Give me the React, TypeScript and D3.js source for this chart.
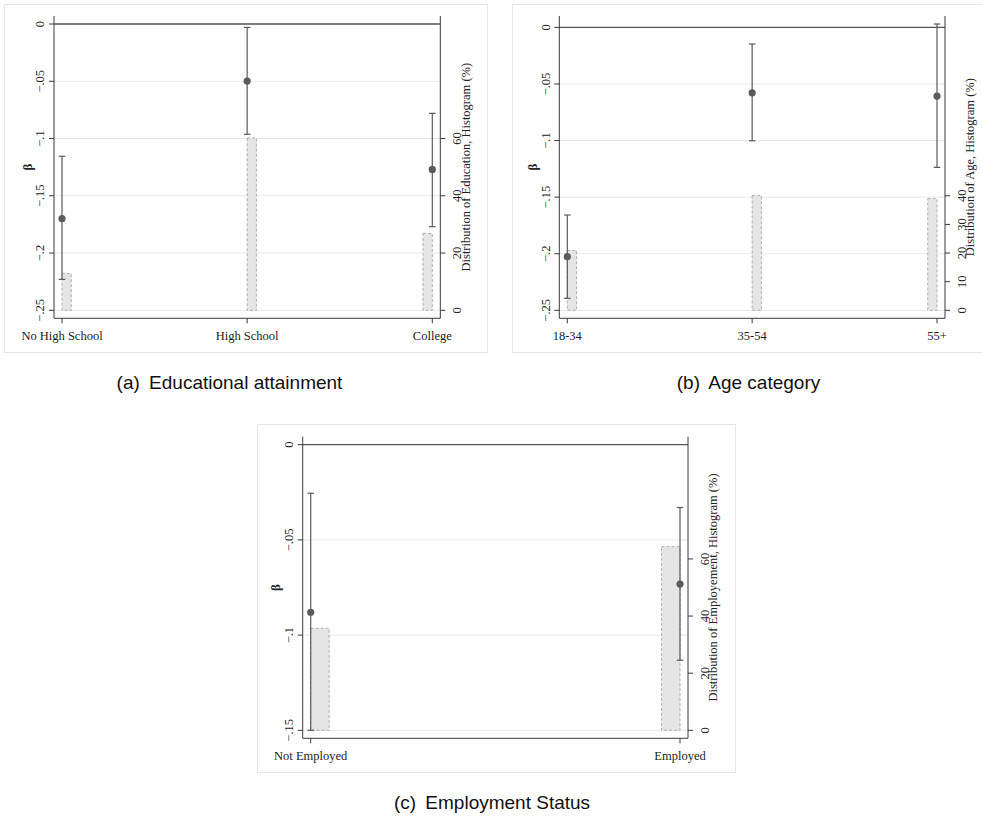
import React from "react";
import * as d3 from "d3";

// ---------- data ----------
const eduCategories = ["No High School", "High School", "College"];
const eduBeta = [-0.170, -0.0498, -0.127];
const eduLo = [-0.223, -0.0963, -0.177];
const eduHi = [-0.1155, -0.003, -0.078];
const eduHist = [12.9, 60.2, 26.9];
const eduLeftTicks = [0, -0.05, -0.1, -0.15, -0.2, -0.25];
const eduRightTicks = [0, 20, 40, 60];

const ageCategories = ["18-34", "35-54", "55+"];
const ageBeta = [-0.2026, -0.0578, -0.0607];
const ageLo = [-0.2394, -0.1002, -0.1237];
const ageHi = [-0.1658, -0.0147, 0.003];
const ageHist = [20.9, 40.1, 39.0];
const ageLeftTicks = [0, -0.05, -0.1, -0.15, -0.2, -0.25];
const ageRightTicks = [0, 10, 20, 30, 40];

const empCategories = ["Not Employed", "Employed"];
const empBeta = [-0.088, -0.0732];
const empLo = [-0.150, -0.1132];
const empHi = [-0.0255, -0.033];
const empHist = [35.7, 64.3];
const empLeftTicks = [0, -0.05, -0.1, -0.15];
const empRightTicks = [0, 20, 40, 60];

const SERIF = "'Liberation Serif', 'Times New Roman', serif";
const SANS = "'Liberation Sans', Arial, sans-serif";
const FS = 12.5;

const fmtBeta = (v: number) => {
  if (v === 0) return "0";
  return d3.format(".2~f")(v).replace("0.", ".").replace("-0.", "-.");
};

type PanelProps = {
  frame: [number, number, number, number];
  plot: { left: number; right: number; top: number; bottom: number };
  categories: string[];
  beta: number[];
  lo: number[];
  hi: number[];
  hist: number[];
  yMin: number;
  leftTicks: number[];
  rightTicks: number[];
  rightTitle: string;
  captionTag: string;
  caption: string;
  captionX: number;
  captionY: number;
};

function Panel(p: PanelProps) {
  const { left, right, top, bottom } = p.plot;
  const pad = 8;
  const n = p.categories.length;
  const x = d3.scaleLinear().domain([0, n - 1]).range([left + pad, right - pad]);
  const yMax = Math.max(0, d3.max(p.hi) as number);
  const y = d3.scaleLinear().domain([p.yMin, yMax]).range([bottom - pad, top + pad]);
  const yR = d3.scaleLinear().domain([0, 100]).range([y(p.yMin), y(yMax)]);
  const binW = 0.05;
  const capHalf = 3.3;
  const dark = "#5a5a5a";
  const axisCol = "#3a3a3a";
  const [fx, fy, fw, fh] = p.frame;
  const midY = (top + bottom) / 2;
  return (
    <g>
      <rect x={fx} y={fy} width={fw} height={fh} fill="white" stroke="#e6e6e6" strokeWidth={1} />
      {p.leftTicks.filter((t) => t !== 0).map((t, i) => (
        <line key={"g" + i} x1={left} x2={right} y1={y(t)} y2={y(t)} stroke="#e8e8e8" strokeWidth={1} />
      ))}
      {p.hist.map((h, i) => {
        const x0 = i === n - 1 ? i - binW : i;
        const x1 = i === n - 1 ? i : i + binW;
        return (
          <rect
            key={"b" + i}
            x={x(x0)}
            y={yR(h)}
            width={x(x1) - x(x0)}
            height={yR(0) - yR(h)}
            fill="#e5e5e5"
            stroke="#a8a8a8"
            strokeWidth={0.9}
            strokeDasharray="3,2"
          />
        );
      })}
      <line x1={left} x2={right} y1={y(0)} y2={y(0)} stroke="#555" strokeWidth={1.3} />
      {p.beta.map((b, i) => (
        <g key={"ci" + i} stroke={dark} strokeWidth={1.2}>
          <line x1={x(i)} x2={x(i)} y1={y(p.lo[i])} y2={y(p.hi[i])} />
          <line x1={x(i) - capHalf} x2={x(i) + capHalf} y1={y(p.lo[i])} y2={y(p.lo[i])} />
          <line x1={x(i) - capHalf} x2={x(i) + capHalf} y1={y(p.hi[i])} y2={y(p.hi[i])} />
        </g>
      ))}
      {p.beta.map((b, i) => (
        <circle key={"pt" + i} cx={x(i)} cy={y(b)} r={3.6} fill={dark} />
      ))}
      <line x1={left} x2={left} y1={top} y2={bottom} stroke={axisCol} strokeWidth={1} />
      <line x1={right} x2={right} y1={top} y2={bottom} stroke={axisCol} strokeWidth={1} />
      <line x1={left} x2={right} y1={bottom} y2={bottom} stroke={axisCol} strokeWidth={1} />
      {p.leftTicks.map((t, i) => (
        <g key={"lt" + i}>
          <line x1={left - 5} x2={left} y1={y(t)} y2={y(t)} stroke={axisCol} />
          <text
            transform={`translate(${left - 14},${y(t)}) rotate(-90)`}
            textAnchor="middle"
            dy="0.35em"
            fontFamily={SERIF}
            fontSize={FS}
            fill="#222"
          >
            {fmtBeta(t)}
          </text>
        </g>
      ))}
      {p.rightTicks.map((t, i) => (
        <g key={"rt" + i}>
          <line x1={right} x2={right + 5} y1={yR(t)} y2={yR(t)} stroke={axisCol} />
          <text
            transform={`translate(${right + 16.5},${yR(t)}) rotate(-90)`}
            textAnchor="middle"
            dy="0.35em"
            fontFamily={SERIF}
            fontSize={FS}
            fill="#222"
          >
            {t}
          </text>
        </g>
      ))}
      {p.categories.map((c, i) => (
        <g key={"c" + i}>
          <line x1={x(i)} x2={x(i)} y1={bottom} y2={bottom + 5} stroke={axisCol} />
          <text x={x(i)} y={bottom + 17} dy="0.35em" textAnchor="middle" fontFamily={SERIF} fontSize={FS} fill="#222">
            {c}
          </text>
        </g>
      ))}
      <text
        transform={`translate(${left - 27},${midY}) rotate(-90)`}
        textAnchor="middle"
        dy="0.35em"
        fontFamily={SERIF}
        fontSize={13}
        fontWeight="bold"
        fill="#222"
      >
        β
      </text>
      <text
        transform={`translate(${right + 25},${midY}) rotate(-90)`}
        textAnchor="middle"
        dy="0.35em"
        fontFamily={SERIF}
        fontSize={FS}
        fill="#222"
      >
        {p.rightTitle}
      </text>
      <text x={p.captionX} y={p.captionY} textAnchor="middle" fontFamily={SANS} fontSize={19} fill="#111">
        <tspan>{p.captionTag}</tspan>
        <tspan dx={4}>{p.caption}</tspan>
      </text>
    </g>
  );
}

export default function App() {
  return (
    <svg
      width={982}
      height={817}
      style={{ position: "absolute", left: 0, top: 0, background: "white" }}
    >
      <rect x={0} y={0} width={982} height={817} fill="white" />
      <Panel
        frame={[4.5, 4.5, 483, 348]}
        plot={{ left: 54, right: 440.3, top: 16, bottom: 318.3 }}
        categories={eduCategories}
        beta={eduBeta}
        lo={eduLo}
        hi={eduHi}
        hist={eduHist}
        yMin={-0.25}
        leftTicks={eduLeftTicks}
        rightTicks={eduRightTicks}
        rightTitle="Distribution of Education, Histogram (%)"
        captionTag="(a)"
        caption=" Educational attainment"
        captionX={229.5}
        captionY={389}
      />
      <Panel
        frame={[512.5, 4.5, 480, 348]}
        plot={{ left: 559.3, right: 945, top: 16, bottom: 318.3 }}
        categories={ageCategories}
        beta={ageBeta}
        lo={ageLo}
        hi={ageHi}
        hist={ageHist}
        yMin={-0.25}
        leftTicks={ageLeftTicks}
        rightTicks={ageRightTicks}
        rightTitle="Distribution of Age, Histogram (%)"
        captionTag="(b)"
        caption=" Age category"
        captionX={748.5}
        captionY={389}
      />
      <Panel
        frame={[257.5, 424.5, 478, 348]}
        plot={{ left: 302.7, right: 688, top: 436.7, bottom: 738.3 }}
        categories={empCategories}
        beta={empBeta}
        lo={empLo}
        hi={empHi}
        hist={empHist}
        yMin={-0.15}
        leftTicks={empLeftTicks}
        rightTicks={empRightTicks}
        rightTitle="Distribution of Employement, Histogram (%)"
        captionTag="(c)"
        caption=" Employment Status"
        captionX={492}
        captionY={809}
      />
    </svg>
  );
}
